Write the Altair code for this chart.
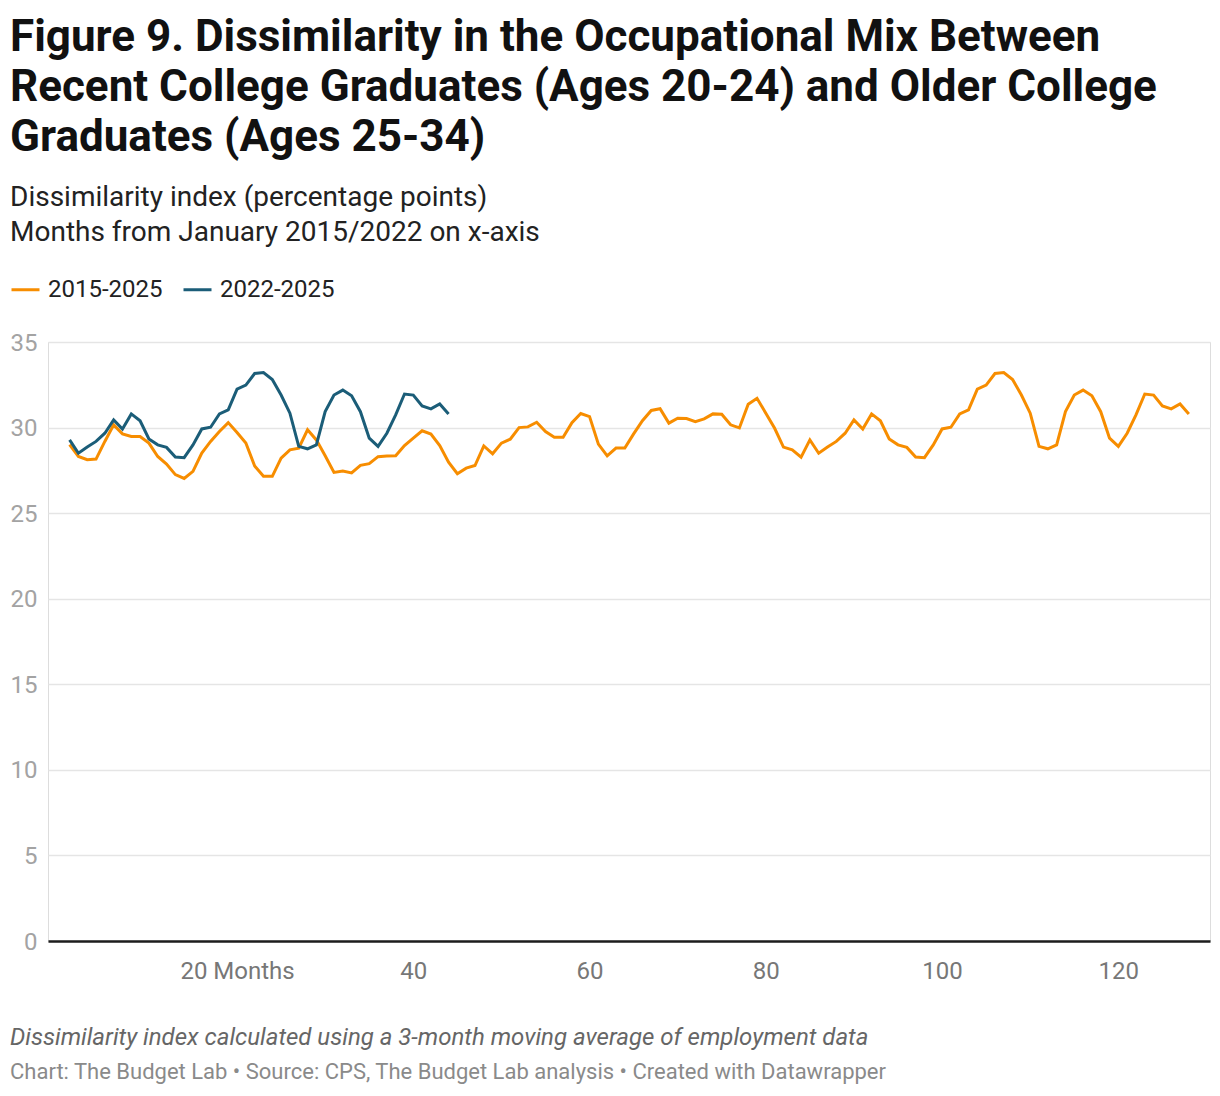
import altair as alt
import pandas as pd

# Months from January 2015 (1 = Jan 2015) for the 2015-2025 series,
# months from January 2022 for the 2022-2025 series.
series_names = ["2015-2025", "2022-2025"]

values_2015_2025 = [
    29.0, 28.31, 28.12, 28.16, 29.19, 30.16, 29.63, 29.48, 29.48, 29.09,
    28.31, 27.87, 27.25, 27.03, 27.44, 28.51, 29.19, 29.77, 30.29, 29.71,
    29.1, 27.75, 27.15, 27.15, 28.22, 28.7, 28.8, 29.87, 29.28, 28.35,
    27.38, 27.46, 27.35, 27.79, 27.89, 28.3, 28.34, 28.35, 28.95, 29.38,
    29.81, 29.62, 28.95, 27.98, 27.3, 27.63, 27.78, 28.93, 28.47, 29.09,
    29.32, 30.0, 30.04, 30.31, 29.77, 29.44, 29.44, 30.29, 30.82, 30.64,
    29.03, 28.35, 28.8, 28.8, 29.63, 30.4, 31.0, 31.1, 30.26, 30.55,
    30.53, 30.35, 30.51, 30.8, 30.78, 30.16, 29.98, 31.36, 31.71, 30.84,
    29.96, 28.86, 28.7, 28.27, 29.28, 28.5, 28.86, 29.19, 29.67, 30.45,
    29.92, 30.8, 30.4, 29.34, 28.99, 28.84, 28.28, 28.24, 28.99, 29.92,
    30.02, 30.8, 31.03, 32.25, 32.48, 33.16, 33.22, 32.81, 31.9, 30.84,
    28.9, 28.76, 28.99, 30.93, 31.9, 32.19, 31.86, 30.93, 29.38, 28.9,
    29.67, 30.74, 31.96, 31.9, 31.26, 31.09, 31.38, 30.8,
]

values_2022_2025 = [
    29.28, 28.5, 28.86, 29.19, 29.67, 30.45, 29.92, 30.8, 30.4, 29.34,
    28.99, 28.84, 28.28, 28.24, 28.99, 29.92, 30.02, 30.8, 31.03, 32.25,
    32.48, 33.16, 33.22, 32.81, 31.9, 30.84, 28.9, 28.76, 28.99, 30.93,
    31.9, 32.19, 31.86, 30.93, 29.38, 28.9, 29.67, 30.74, 31.96, 31.9,
    31.26, 31.09, 31.38, 30.8,
]

x_ticks = [20, 40, 60, 80, 100, 120]
y_ticks = [0, 5, 10, 15, 20, 25, 30, 35]

title_lines = [
    "Figure 9. Dissimilarity in the Occupational Mix Between",
    "Recent College Graduates (Ages 20-24) and Older College",
    "Graduates (Ages 25-34)",
]
subtitle_lines = [
    "Dissimilarity index (percentage points)",
    "Months from January 2015/2022 on x-axis",
]
note_text = "Dissimilarity index calculated using a 3-month moving average of employment data"
credit_text = "Chart: The Budget Lab \u2022 Source: CPS, The Budget Lab analysis \u2022 Created with Datawrapper"

rows = []
for i, v in enumerate(values_2015_2025):
    rows.append({"month": i + 1, "value": v, "series": series_names[0]})
for i, v in enumerate(values_2022_2025):
    rows.append({"month": i + 1, "value": v, "series": series_names[1]})
df = pd.DataFrame(rows)

FONT = "Roboto"
W, H = 1162, 599

lines = alt.Chart(df).mark_line(strokeWidth=3).encode(
    x=alt.X(
        "month:Q",
        scale=alt.Scale(domain=[-1.45, 130.4], nice=False, zero=False),
        axis=alt.Axis(
            values=x_ticks,
            labelExpr="datum.value == 20 ? '20 Months' : datum.label",
            title=None,
            grid=False,
            ticks=False,
            tickSize=0,
            labelFontSize=24,
            labelColor="#777777",
            labelFont=FONT,
            labelPadding=18,
            labelBaseline="top",
            labelFlush=False,
            labelOverlap=False,
            domainColor="#1d1d1d",
            domainWidth=2.5,
        ),
    ),
    y=alt.Y(
        "value:Q",
        scale=alt.Scale(domain=[0, 35], nice=False),
        axis=alt.Axis(
            values=y_ticks,
            title=None,
            grid=True,
            gridColor="#e5e5e5",
            gridWidth=1.5,
            ticks=False,
            tickSize=0,
            domain=False,
            labelFontSize=24,
            labelColor="#a3a3a3",
            labelFont=FONT,
            labelPadding=11,
            labelBaseline="middle",
            labelOffset=1,
        ),
    ),
    color=alt.Color(
        "series:N",
        scale=alt.Scale(domain=series_names, range=["#f78d00", "#1b5d78"]),
        legend=alt.Legend(
            title=None,
            orient="none",
            legendX=-38,
            legendY=-68,
            direction="horizontal",
            symbolType="stroke",
            symbolStrokeWidth=3,
            symbolSize=784,
            labelFontSize=24,
            labelFont=FONT,
            labelColor="#222222",
            labelOffset=7,
            columnPadding=14,
            padding=0,
        ),
    ),
    detail="series:N",
)


def txt(s, x, y, size, weight="normal", color="#222222", style="normal"):
    return alt.Chart(alt.Data(values=[{}])).mark_text(
        text=s,
        align="left",
        baseline="alphabetic",
        font=FONT,
        fontSize=size,
        fontWeight=weight,
        fontStyle=style,
        color=color,
    ).encode(x=alt.value(x), y=alt.value(y))


texts = [
    txt(title_lines[0], -38, -291.0, 44, "bold", "#111111"),
    txt(title_lines[1], -38, -241.0, 44, "bold", "#111111"),
    txt(title_lines[2], -38, -191.0, 44, "bold", "#111111"),
    txt(subtitle_lines[0], -38, -136.0, 28, "normal", "#222222"),
    txt(subtitle_lines[1], -38, -101.0, 28, "normal", "#222222"),
    txt(note_text, -38, 703.0, 24, "normal", "#666666", "italic"),
    txt(credit_text, -38, 737.0, 22, "normal", "#8a8a8a"),
]

chart = alt.layer(lines, *texts).properties(
    width=W,
    height=H,
    padding={"left": 40, "top": 334, "right": 2, "bottom": 150},
    autosize=alt.AutoSizeParams(type="none"),
).configure_view(stroke=None).configure(font=FONT)

chart.save("out.html", embed_options={"renderer": "svg", "actions": False})
